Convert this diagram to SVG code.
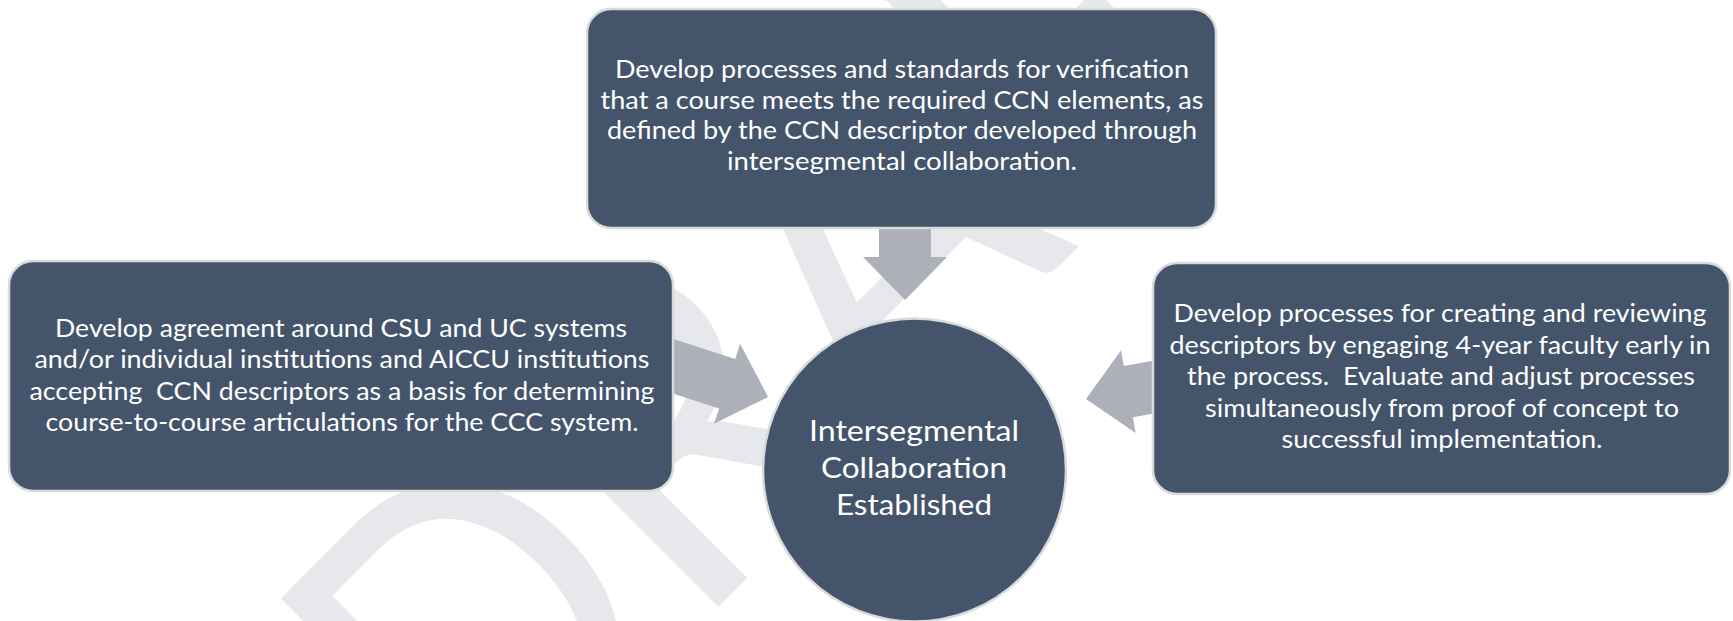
<svg xmlns="http://www.w3.org/2000/svg" width="1733" height="621" viewBox="0 0 1733 621">
<style>
.node{fill:#44546a;stroke:#d9dadc;stroke-width:2.5}
.t{font-family:Lato,"Open Sans","Liberation Sans",sans-serif;font-size:25px;fill:#ffffff;text-anchor:middle}
.c{font-size:29px}
.arr{fill:#adb0b8}
.wm{font-family:Lato,"Open Sans","Liberation Sans",sans-serif;font-size:440px;fill:#e7e8eb}
</style>
<defs>
<polygon id="arrow" points="0,0 -43,-42 -43,-26 -120,-26 -120,26 -43,26 -43,42"/>
</defs>
<rect width="1733" height="621" fill="#ffffff"/>
<g id="watermark" transform="translate(478,847) rotate(-45)">
<text class="wm" x="0" y="0" textLength="301" lengthAdjust="spacingAndGlyphs">D</text>
<text class="wm" x="301" y="0" textLength="266" lengthAdjust="spacingAndGlyphs">R</text>
<text class="wm" x="567" y="0" textLength="284" lengthAdjust="spacingAndGlyphs">A</text>
<text class="wm" x="851" y="0" textLength="225" lengthAdjust="spacingAndGlyphs">F</text>
<text class="wm" x="1086" y="-20" textLength="239" lengthAdjust="spacingAndGlyphs">T</text>
</g>
<g id="connectors">
<use href="#arrow" class="arr" transform="translate(905,300) rotate(90)"/>
<use href="#arrow" class="arr" transform="translate(768,397) rotate(18)"/>
<use href="#arrow" class="arr" transform="translate(1086,399) rotate(170)"/>
</g>
<g id="node-top">
<rect class="node" x="587" y="9" width="629" height="219" rx="24"/>
<text class="t" y="77.5"><tspan x="902" textLength="574" lengthAdjust="spacingAndGlyphs">Develop processes and standards for verification</tspan></text>
<text class="t" y="108.5"><tspan x="902" textLength="603" lengthAdjust="spacingAndGlyphs">that a course meets the required CCN elements, as</tspan></text>
<text class="t" y="139"><tspan x="902" textLength="590" lengthAdjust="spacingAndGlyphs">defined by the CCN descriptor developed through</tspan></text>
<text class="t" y="169.5"><tspan x="902" textLength="350" lengthAdjust="spacingAndGlyphs">intersegmental collaboration.</tspan></text>
</g>
<g id="node-left">
<rect class="node" x="9" y="261" width="664" height="230" rx="24"/>
<text class="t" y="336.5"><tspan x="341" textLength="572" lengthAdjust="spacingAndGlyphs">Develop agreement around CSU and UC systems</tspan></text>
<text class="t" y="368"><tspan x="342" textLength="615" lengthAdjust="spacingAndGlyphs">and/or individual institutions and AICCU institutions</tspan></text>
<text class="t" y="399.5" xml:space="preserve"><tspan x="342" textLength="625" lengthAdjust="spacingAndGlyphs">accepting  CCN descriptors as a basis for determining</tspan></text>
<text class="t" y="431"><tspan x="342" textLength="593" lengthAdjust="spacingAndGlyphs">course-to-course articulations for the CCC system.</tspan></text>
</g>
<g id="node-right">
<rect class="node" x="1153" y="263" width="577" height="231" rx="24"/>
<text class="t" y="322"><tspan x="1440" textLength="533" lengthAdjust="spacingAndGlyphs">Develop processes for creating and reviewing</tspan></text>
<text class="t" y="353.5"><tspan x="1440" textLength="541" lengthAdjust="spacingAndGlyphs">descriptors by engaging 4-year faculty early in</tspan></text>
<text class="t" y="385" xml:space="preserve"><tspan x="1441" textLength="508" lengthAdjust="spacingAndGlyphs">the process.  Evaluate and adjust processes</tspan></text>
<text class="t" y="416.5"><tspan x="1442" textLength="474" lengthAdjust="spacingAndGlyphs">simultaneously from proof of concept to</tspan></text>
<text class="t" y="448"><tspan x="1442" textLength="321" lengthAdjust="spacingAndGlyphs">successful implementation.</tspan></text>
</g>
<g id="node-center">
<circle class="node" cx="914.5" cy="470" r="151.5"/>
<text class="t c" y="441"><tspan x="914" textLength="210" lengthAdjust="spacingAndGlyphs">Intersegmental</tspan></text>
<text class="t c" y="478"><tspan x="914" textLength="186" lengthAdjust="spacingAndGlyphs">Collaboration</tspan></text>
<text class="t c" y="515"><tspan x="914" textLength="156" lengthAdjust="spacingAndGlyphs">Established</tspan></text>
</g>
</svg>
